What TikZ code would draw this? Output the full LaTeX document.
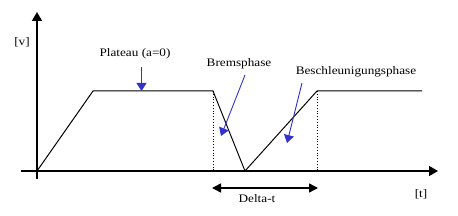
\documentclass[tikz,border=0pt]{standalone}
\usepackage{fontspec}
\setmainfont[FakeStretch=1.15]{Liberation Serif}
\usetikzlibrary{arrows.meta}
\definecolor{pblue}{RGB}{51,51,204}
\tikzset{
  axis/.style={line width=1.5pt,-{Triangle[length=9pt,width=10pt]}},
  curve/.style={line width=1pt,line join=miter},
  guide/.style={line width=0.8pt,dotted},
  pointer/.style={pblue,line width=0.9pt,-{Triangle[length=8pt,width=10pt]}},
  span/.style={line width=1.5pt,{Triangle[length=9pt,width=9pt]}-{Triangle[length=9pt,width=9pt]}},
  lab/.style={font=\fontsize{11.5}{13}\selectfont,inner sep=0pt}
}
\begin{document}
\begin{tikzpicture}[x=1pt,y=-1pt]
\useasboundingbox (0,0) rectangle (458,216);
% axes
\coordinate (ybot) at (37,179);
\coordinate (ytop) at (37,12);
\coordinate (xl) at (21,171);
\coordinate (xr) at (438,171);
\draw[axis] (ybot) -- (ytop);
\draw[axis] (xl) -- (xr);
% profile
\coordinate (O) at (37,171);
\coordinate (A) at (93,91);
\coordinate (B) at (213,91);
\coordinate (C) at (245,171);
\coordinate (D) at (317,91);
\coordinate (E) at (422,91);
\coordinate (Bb) at (213,171);
\coordinate (Db) at (317,171);
\draw[curve] (O) -- (A) -- (B) -- (C) -- (D) -- (E);
\draw[guide] (B) -- (Bb);
\draw[guide] (D) -- (Db);
% delta-t
\coordinate (dl) at (212,188);
\coordinate (dr) at (318,188);
\draw[span] (dl) -- (dr);
% labels
\node[lab] (v) at (22,42) {[v]};
\node[lab] (t) at (421,194) {[t]};
\node[lab] (dt) at (257,199) {Delta-t};
\node[lab] (plat) at (135,54) {Plateau (a=0)};
\node[lab] (brems) at (239,64) {Bremsphase};
\node[lab] (besch) at (356,72) {Beschleunigungsphase};
% pointers
\coordinate (p1s) at (141.5,67);
\coordinate (p1e) at (141.5,91);
\coordinate (p2s) at (245,75);
\coordinate (p2e) at (221,136);
\coordinate (p3s) at (302,83);
\coordinate (p3e) at (287,143);
\draw[pointer] (p1s) -- (p1e);
\draw[pointer] (p2s) -- (p2e);
\draw[pointer] (p3s) -- (p3e);
\end{tikzpicture}
\end{document}
